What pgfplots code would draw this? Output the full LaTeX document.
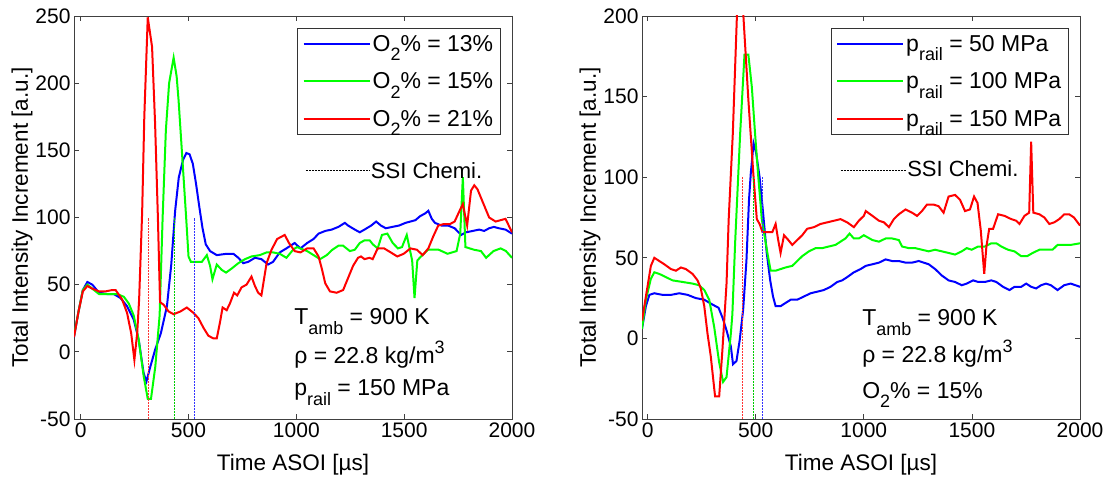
\documentclass[border=0pt]{standalone}
\usepackage{graphicx}
\usepackage{pgfplots}
\pgfplotsset{compat=1.18}
\usepackage{fontspec}
\setmainfont{Liberation Sans}
\newcommand{\tickf}{\fontsize{21bp}{25bp}\selectfont}
\newcommand{\labf}{\fontsize{22.5bp}{26bp}\selectfont}
\newcommand{\legf}{\fontsize{23bp}{27bp}\selectfont}
\newcommand{\annf}{\fontsize{23bp}{27bp}\selectfont}
\newcommand{\ssif}{\fontsize{22bp}{26bp}\selectfont}
\newcommand{\sub}[1]{\raisebox{-0.42em}{\scalebox{0.78}{#1}}}
\newcommand{\sups}[1]{\raisebox{0.43em}{\scalebox{0.78}{#1}}}
\definecolor{mblue}{rgb}{0,0,1}
\definecolor{mgreen}{rgb}{0,1,0}
\definecolor{mred}{rgb}{1,0,0}
\pgfplotsset{
  mystyle/.style={
    scale only axis, width=438bp, height=403bp,
    xmax=2000,
    xtick={0,500,1000,1500,2000}, xticklabels={0,500,1000,1500,2000},
    tick align=inside, major tick length=5bp,
    axis line style={black!75, line width=0.8bp},
    tick style={black!75, line width=0.8bp},
    tick label style={font=\tickf},
    xlabel={Time ASOI [µs]},
    ylabel={Total Intensity Increment [a.u.]},
    xlabel style={font=\labf, at={(axis description cs:0.5,-0.114)}, anchor=center},
    ylabel style={font=\labf, at={(axis description cs:-0.1187,0.5)}, anchor=center, rotate=0},
    legend style={font=\legf, draw=black!80, line width=0.8bp, fill=white,
      anchor=north east, inner xsep=5bp, inner ysep=5bp, row sep=16bp},
    legend cell align=left,
    legend image code/.code={\draw[##1, line width=2bp] (0bp,0bp) -- (66bp,0bp);},
    every axis plot/.append style={line width=2bp},
  }
}
\begin{document}
\begin{tikzpicture}
\begin{axis}[mystyle, at={(0bp,0bp)}, anchor=south west,
  xmin=-31, ymin=-50, ymax=250,
  ytick={-50,0,50,100,150,200,250}, yticklabels={-50,0,50,100,150,200,250},
  legend style={at={(0.974,0.971)}}]
\addplot[mblue] coordinates {(-31,11) (-10,30) (10,46) (31,52) (54,50) (85,44) (123,43) (154,43) (185,40) (215,34) (246,24) (269,9) (292,-16) (305,-22) (323,-11) (346,2) (372,14) (400,34) (420,65) (438,105) (455,130) (475,143) (490,148) (505,147) (520,140) (535,125) (550,108) (565,92) (580,80) (600,75) (631,72) (677,73) (708,73) (731,70) (754,66) (777,67) (808,70) (838,69) (869,65) (892,67) (923,74) (954,77) (992,81) (1019,77) (1050,81) (1080,84) (1103,88) (1134,90) (1164,91) (1195,93) (1225,96) (1240,94) (1271,91) (1294,89) (1316,91) (1347,94) (1370,97) (1392,94) (1415,92) (1445,93) (1476,94) (1506,96) (1529,97) (1552,98) (1574,101) (1597,103) (1612,105) (1628,99) (1643,96) (1673,94) (1704,94) (1734,92) (1764,87) (1787,89) (1818,90) (1848,91) (1871,90) (1894,92) (1916,93) (1939,92) (1970,91) (2000,88)};
\addlegendentry{O\sub{2}\% = 13\%}
\addplot[mgreen] coordinates {(-31,12) (-10,30) (10,46) (31,50) (54,47) (85,43) (123,43) (169,43) (200,41) (223,36) (246,27) (269,9) (292,-18) (311,-35) (326,-35) (346,-11) (366,27) (380,100) (395,165) (410,200) (431,219) (445,205) (454,187) (469,150) (489,100) (500,71) (511,67) (538,67) (562,67) (585,72) (600,64) (611,54) (631,65) (654,61) (674,59) (700,62) (731,66) (762,69) (792,71) (831,72) (862,74) (892,74) (923,73) (954,70) (985,76) (1003,78) (1050,75) (1080,72) (1110,69) (1141,72) (1167,76) (1195,79) (1217,79) (1248,75) (1271,76) (1294,81) (1316,83) (1340,83) (1355,80) (1377,77) (1397,87) (1422,88) (1447,81) (1471,77) (1490,78) (1512,87) (1537,68) (1548,40) (1561,68) (1578,71) (1611,76) (1660,76) (1701,73) (1743,75) (1760,88) (1772,130) (1784,78) (1824,76) (1856,75) (1880,70) (1914,75) (1947,77) (1972,75) (2000,70)};
\addlegendentry{O\sub{2}\% = 15\%}
\addplot[mred] coordinates {(-31,11) (-10,30) (10,45) (31,49) (54,47) (85,45) (115,45) (146,46) (162,46) (192,39) (215,29) (234,14) (249,-6) (262,14) (271,39) (285,104) (295,175) (311,249) (331,227) (345,170) (358,100) (368,37) (385,35) (408,30) (431,28) (462,30) (492,33) (523,29) (546,25) (569,18) (592,12) (615,10) (631,10) (646,22) (658,33) (677,31) (692,36) (711,44) (726,42) (746,48) (769,50) (792,56) (808,49) (823,44) (838,42) (862,66) (885,76) (911,84) (946,87) (966,81) (992,75) (1019,74) (1050,77) (1080,77) (1103,71) (1118,62) (1134,51) (1156,45) (1187,44) (1217,46) (1240,55) (1263,64) (1286,70) (1300,71) (1316,69) (1339,70) (1354,69) (1377,77) (1407,77) (1438,74) (1468,71) (1498,73) (1529,77) (1559,76) (1586,72) (1612,77) (1635,86) (1658,94) (1681,95) (1711,95) (1734,97) (1757,105) (1772,110) (1792,94) (1810,120) (1825,124) (1840,121) (1863,112) (1894,100) (1924,97) (1947,98) (1970,99) (1985,94) (2000,89)};
\addlegendentry{O\sub{2}\% = 21\%\rule[-36bp]{0pt}{1bp}}
\addplot[mred!80, densely dotted, line width=0.7bp, forget plot] coordinates {(314,-50) (314,100)};
\addplot[mgreen!80!black, densely dotted, line width=0.7bp, forget plot] coordinates {(433,-50) (433,100)};
\addplot[mblue!80, densely dotted, line width=0.7bp, forget plot] coordinates {(527,-50) (527,100)};
\addplot[black, densely dotted, line width=0.6bp, forget plot] coordinates {(1044,134.8) (1340,134.8)};
\node[anchor=base west, font=\ssif, inner sep=0pt] at (axis cs:1345,129) {SSI Chemi.};
\node[anchor=base west, font=\annf, inner sep=0pt] at (axis cs:990,20) {T\sub{amb} = 900 K};
\node[anchor=base west, font=\annf, inner sep=0pt] at (axis cs:990,-8.4) {ρ = 22.8 kg/m\sups{3}};
\node[anchor=base west, font=\annf, inner sep=0pt] at (axis cs:990,-32.7) {p\sub{rail} = 150 MPa};
\end{axis}
\begin{axis}[mystyle, at={(568bp,0bp)}, anchor=south west,
  xmin=-26, ymin=-50, ymax=200,
  ytick={-50,0,50,100,150,200}, yticklabels={-50,0,50,100,150,200},
  legend style={at={(0.974,0.971)}}]
\addplot[mblue] coordinates {(-26,6) (-8,20) (8,27) (31,28) (69,27) (108,27) (146,28) (185,27) (223,25) (262,24) (300,21) (328,19) (346,13) (365,5) (385,-5) (395,-16) (411,-14) (426,-1) (442,18) (457,48) (469,86) (477,102) (490,121) (502,115) (518,100) (534,78) (551,53) (567,36) (580,26) (592,20) (615,20) (638,22) (662,24) (692,24) (723,26) (754,28) (785,29) (815,30) (846,32) (877,35) (900,36) (923,38) (954,41) (985,43) (1009,45) (1040,46) (1070,47) (1101,49) (1131,48) (1162,48) (1193,47) (1223,47) (1254,48) (1277,47) (1300,46) (1330,43) (1361,39) (1392,36) (1422,35) (1453,33) (1476,34) (1506,36) (1529,35) (1560,35) (1590,36) (1613,35) (1644,32) (1674,30) (1697,32) (1728,32) (1751,34) (1774,32) (1797,31) (1820,33) (1843,34) (1865,33) (1896,30) (1927,33) (1957,34) (2000,32)};
\addlegendentry{p\sub{rail} = 50 MPa}
\addplot[mgreen] coordinates {(-26,6) (-8,24) (15,37) (31,41) (54,40) (85,38) (115,36) (162,35) (208,34) (238,33) (262,30) (285,24) (308,7) (331,-15) (349,-27) (365,-24) (385,3) (392,15) (405,60) (428,127) (448,176) (466,176) (482,156) (497,127) (512,100) (528,74) (554,53) (569,42) (592,42) (615,43) (638,44) (669,45) (692,48) (715,51) (746,54) (777,56) (808,56) (838,57) (869,58) (892,60) (915,62) (934,65) (954,62) (977,62) (1000,64) (1040,61) (1070,60) (1101,62) (1131,62) (1162,61) (1177,57) (1208,56) (1238,56) (1269,55) (1300,54) (1330,55) (1361,54) (1392,53) (1422,52) (1453,54) (1476,56) (1499,55) (1529,57) (1560,57) (1590,59) (1613,59) (1636,57) (1667,55) (1697,54) (1728,51) (1755,51) (1781,53) (1812,55) (1843,55) (1873,55) (1896,58) (1927,58) (1957,58) (2000,59)};
\addlegendentry{p\sub{rail} = 100 MPa}
\addplot[mred] coordinates {(-26,11) (-8,26) (15,45) (31,50) (54,48) (77,46) (108,43) (131,42) (154,44) (177,43) (208,40) (231,36) (246,31) (262,20) (277,3) (292,-11) (312,-36) (331,-36) (346,-7) (365,34) (375,74) (394,127) (413,200) (428,225) (443,200) (466,148) (489,102) (505,74) (518,71) (531,66) (554,66) (577,66) (592,71) (604,61) (615,53) (631,64) (651,61) (669,58) (692,61) (715,64) (738,68) (769,69) (800,71) (831,72) (862,73) (892,74) (923,72) (954,69) (977,73) (1000,76) (1009,79) (1040,76) (1070,73) (1093,72) (1116,69) (1139,74) (1162,77) (1193,80) (1223,78) (1246,76) (1269,79) (1292,83) (1323,83) (1346,82) (1369,78) (1392,88) (1422,89) (1445,86) (1468,79) (1491,80) (1510,88) (1526,84) (1541,67) (1557,40) (1567,57) (1580,68) (1598,68) (1621,77) (1651,76) (1682,74) (1705,73) (1720,71) (1743,76) (1765,78) (1774,122) (1784,78) (1812,77) (1835,75) (1858,71) (1881,72) (1904,74) (1927,77) (1950,77) (1972,75) (2000,70)};
\addlegendentry{p\sub{rail} = 150 MPa\rule[-36bp]{0pt}{1bp}}
\addplot[mred!80, densely dotted, line width=0.7bp, forget plot] coordinates {(437,-50) (437,100)};
\addplot[mgreen!80!black, densely dotted, line width=0.7bp, forget plot] coordinates {(487,-50) (487,100)};
\addplot[mblue!80, densely dotted, line width=0.7bp, forget plot] coordinates {(531,-50) (531,100)};
\addplot[black, densely dotted, line width=0.6bp, forget plot] coordinates {(894,104.4) (1193,104.4)};
\node[anchor=base west, font=\ssif, inner sep=0pt] at (axis cs:1200,100.3) {SSI Chemi.};
\node[anchor=base west, font=\annf, inner sep=0pt] at (axis cs:992,7.8) {T\sub{amb} = 900 K};
\node[anchor=base west, font=\annf, inner sep=0pt] at (axis cs:992,-14.9) {ρ = 22.8 kg/m\sups{3}};
\node[anchor=base west, font=\annf, inner sep=0pt] at (axis cs:992,-37) {O\sub{2}\% = 15\%};
\end{axis}
\pgfresetboundingbox
\useasboundingbox (-74bp,-65bp) rectangle (1044bp,419bp);
\end{tikzpicture}
\end{document}
